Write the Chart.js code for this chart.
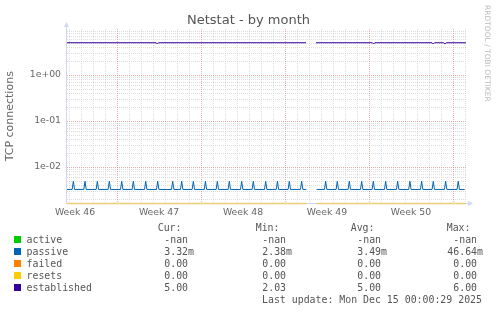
<!DOCTYPE html>
<html>
<head>
<meta charset="utf-8">
<title>Netstat - by month</title>
<script src="https://cdn.jsdelivr.net/npm/chart.js@4.4.1/dist/chart.umd.min.js"></script>
<style>
    html, body { margin: 0; padding: 0; background: #fff; }
    #wrap { position: relative; width: 497px; height: 312px; overflow: hidden; font-family: "DejaVu Sans", sans-serif; color: #666; }
    #chart { position: absolute; left: 0; top: 0; }
    .title { position: absolute; left: 0; width: 497px; top: 12.5px; text-align: center; font-size: 13px; line-height: 13px; color: #555; }
    .mark { position: absolute; left: 482.5px; top: 5px; writing-mode: vertical-rl; font-size: 7.5px; line-height: 8px; color: #bbb; white-space: nowrap; }
    .leg { position: absolute; font-family: "DejaVu Sans Mono", monospace; font-size: 9.9px; line-height: 12px; white-space: pre; color: #555; }
    .sq { position: absolute; width: 7px; height: 7px; }
</style>
</head>
<body>
<div id="wrap">
    <canvas id="chart" width="497" height="312"></canvas>
    <div class="title">Netstat - by month</div>
    <div class="mark">RRDTOOL / TOBI OETIKER</div>
    <div id="legend"></div>
</div>
<script>
// x axis is in days, week boundaries at the major ticks
const weekTicks = [0.5, 7.5, 14.5, 21.5, 28.5];
const weekLabels = ['Week 46', 'Week 47', 'Week 48', 'Week 49', 'Week 50'];
const majorDays = [4, 11, 18, 25, 32];

const yTickValues = [0.01, 0.1, 1];
const yTickLabels = ['1e-02', '1e-01', '1e+00'];

// passive: flat baseline with a small daily spike
const passiveSegments = [[-0.17, 19.78], [20.64, 32.98]];
const passiveSpikeDays = [0.36, 1.33, 2.36, 3.36, 4.39, 5.36, 6.39, 7.39, 8.64, 9.39, 10.36, 11.37,
    12.36, 13.36, 14.39, 15.36, 16.39, 17.37, 18.36, 19.39, 21.39, 22.36, 23.36, 24.39, 25.36,
    26.39, 27.39, 28.41, 29.39, 30.36, 31.39, 32.44];
const passiveBase = 0.00325;
const passivePeak = 0.0049;

const estDays = [-0.17, 7.26, 7.36, 7.46, 19.75, 20.1, 20.58, 25.29, 25.39, 25.49, 30.26, 30.36, 30.46, 31.23, 31.33, 31.43, 33.08];
const estValues = [5, 5, 4.7, 5, 5, null, 5, 5, 4.7, 5, 5, 4.7, 5, 5, 4.7, 5, 5];

const zeroDays = [-0.17, 19.78, 20.2, 20.62, 33.08];
const failedValues = [0, 0, null, 0, 0];
const resetsValues = [0, 0, null, 0, 0];

// legend table
const legendNames = ['active', 'passive', 'failed', 'resets', 'established'];
const legendColors = ['#00CC00', '#0066B3', '#FF8000', '#FFCC00', '#330099'];
const curValues = ['-nan', '3.32m', '0.00', '0.00', '5.00'];
const minValues = ['-nan', '2.38m', '0.00', '0.00', '2.03'];
const avgValues = ['-nan', '3.49m', '0.00', '0.00', '5.00'];
const maxValues = ['-nan', '46.64m', '0.00', '0.00', '6.00'];
const lastUpdate = 'Last update: Mon Dec 15 00:00:29 2025';

function passivePoints() {
    const pts = [];
    passiveSegments.forEach((seg, i) => {
        if (i > 0) pts.push({ x: (passiveSegments[i - 1][1] + seg[0]) / 2, y: null });
        pts.push({ x: seg[0], y: passiveBase });
        passiveSpikeDays.filter(d => d > seg[0] && d < seg[1]).forEach(d => {
            pts.push({ x: d - 0.1, y: passiveBase });
            pts.push({ x: d, y: passivePeak });
            pts.push({ x: d + 0.1, y: passiveBase });
        });
        pts.push({ x: seg[1], y: passiveBase });
    });
    return pts;
}

const toPoints = (xs, ys) => xs.map((x, i) => ({ x: x, y: ys[i] }));

const MINOR = 'rgba(200,200,200,0.6)';
const MAJOR = 'rgba(230,130,130,0.65)';
const AXIS = '#CFD6F8';

const rrdGrid = {
    id: 'rrdGrid',
    beforeDatasetsDraw(chart) {
        const { ctx, chartArea: a, scales: { x, y } } = chart;
        ctx.save();
        ctx.lineWidth = 1;
        ctx.setLineDash([1, 1]);
        [false, true].forEach(major => {
            ctx.strokeStyle = major ? MAJOR : MINOR;
            for (let d = Math.ceil(x.min); d <= x.max; d++) {
                if (majorDays.includes(d) !== major) continue;
                const px = Math.round(x.getPixelForValue(d)) + 0.5;
                ctx.beginPath(); ctx.moveTo(px, a.top); ctx.lineTo(px, a.bottom); ctx.stroke();
            }
            for (let e = -3; e <= 1; e++) {
                for (let k = 1; k <= 9; k++) {
                    const v = k * Math.pow(10, e);
                    if (v < y.min || v > y.max || (k === 1) !== major) continue;
                    const py = Math.round(y.getPixelForValue(v)) + 0.5;
                    ctx.beginPath(); ctx.moveTo(a.left, py); ctx.lineTo(a.right, py); ctx.stroke();
                }
            }
        });
        ctx.setLineDash([]);
        // axes with arrows
        ctx.strokeStyle = AXIS;
        ctx.fillStyle = AXIS;
        const ax = Math.round(a.left) - 0.5, by = Math.round(a.bottom) - 0.5;
        ctx.beginPath(); ctx.moveTo(ax, by); ctx.lineTo(ax, a.top - 3); ctx.stroke();
        ctx.beginPath(); ctx.moveTo(ax, by); ctx.lineTo(a.right + 2, by); ctx.stroke();
        ctx.beginPath(); ctx.moveTo(ax, a.top - 7); ctx.lineTo(ax - 2.5, a.top - 2); ctx.lineTo(ax + 2.5, a.top - 2); ctx.fill();
        ctx.beginPath(); ctx.moveTo(a.right + 6, by); ctx.lineTo(a.right + 1, by - 2.5); ctx.lineTo(a.right + 1, by + 2.5); ctx.fill();
        ctx.restore();
    }
};

function buildLegend() {
    const box = document.getElementById('legend');
    const rowTop = i => 221.5 + 12 * i;
    const add = (text, top, opts) => {
        const el = document.createElement('div');
        el.className = 'leg';
        el.textContent = text;
        el.style.top = top + 'px';
        if (opts.right !== undefined) el.style.right = (497 - opts.right) + 'px';
        else el.style.left = opts.left + 'px';
        box.appendChild(el);
    };
    const cols = [194, 292, 387, 483];
    ['Cur:', 'Min:', 'Avg:', 'Max:'].forEach((h, c) => add(h, rowTop(0), { right: cols[c] - 12.5 }));
    legendNames.forEach((name, i) => {
        const sq = document.createElement('div');
        sq.className = 'sq';
        sq.style.left = '13.5px';
        sq.style.top = (rowTop(i + 1) + 2.5) + 'px';
        sq.style.background = legendColors[i];
        box.appendChild(sq);
        add(name, rowTop(i + 1), { left: 26.5 });
        [curValues, minValues, avgValues, maxValues].forEach((vals, c) => {
            const v = vals[i];
            add(v.endsWith('m') ? v : v + ' ', rowTop(i + 1), { right: cols[c] });
        });
    });
    add(lastUpdate, rowTop(6), { right: 482 });
}

const tickFont = { family: 'DejaVu Sans', size: 9.3 };

new Chart(document.getElementById('chart'), {
    type: 'line',
    data: {
        datasets: [
            { label: 'established', data: toPoints(estDays, estValues), borderColor: '#330099', order: 0 },
            // zero values cannot sit on a log axis, rrdtool draws them on the floor of the graph
            { label: 'resets', data: toPoints(zeroDays, resetsValues), yAxisID: 'yZero', clip: false, borderWidth: 1.5, borderColor: 'rgba(235,205,120,1)', order: 1 },
            { label: 'failed', data: toPoints(zeroDays, failedValues), yAxisID: 'yZero', clip: false, borderColor: 'rgba(255,128,0,0.3)', order: 2 },
            { label: 'passive', data: passivePoints(), borderColor: '#0066B3', order: 3 },
            { label: 'active', data: [], borderColor: '#00CC00', order: 4 }
        ]
    },
    options: {
        responsive: false,
        animation: false,
        devicePixelRatio: 1,
        layout: { padding: { left: 0, top: 29, right: 30, bottom: 0 } },
        plugins: { legend: { display: false }, tooltip: { enabled: false }, title: { display: false } },
        elements: { point: { radius: 0 }, line: { borderWidth: 1, tension: 0 } },
        spanGaps: false,
        scales: {
            x: {
                type: 'linear',
                min: -0.17,
                max: 33.17,
                grid: { display: false, drawTicks: false },
                border: { display: false },
                ticks: {
                    autoSkip: false,
                    maxRotation: 0,
                    padding: 4,
                    color: '#666',
                    font: tickFont,
                    callback: (v, i) => weekLabels[i]
                },
                afterBuildTicks: s => { s.ticks = weekTicks.map(v => ({ value: v })); },
                afterFit: s => { s.height = 108.5; }
            },
            y: {
                type: 'logarithmic',
                min: 0.00161,
                max: 9.95,
                grid: { display: false, drawTicks: false },
                border: { display: false },
                ticks: {
                    autoSkip: false,
                    padding: 6,
                    color: '#666',
                    font: tickFont,
                    callback: (v, i) => yTickLabels[i]
                },
                title: {
                    display: true,
                    text: 'TCP connections',
                    color: '#666',
                    font: { family: 'DejaVu Sans', size: 11 },
                    padding: { top: 4, bottom: 0 }
                },
                afterBuildTicks: s => { s.ticks = yTickValues.map(v => ({ value: v })); },
                afterFit: s => { s.width = 67; }
            },
            yZero: {
                type: 'linear',
                display: false,
                min: 0,
                max: 1
            }
        }
    },
    plugins: [rrdGrid]
});

buildLegend();
</script>
</body>
</html>
